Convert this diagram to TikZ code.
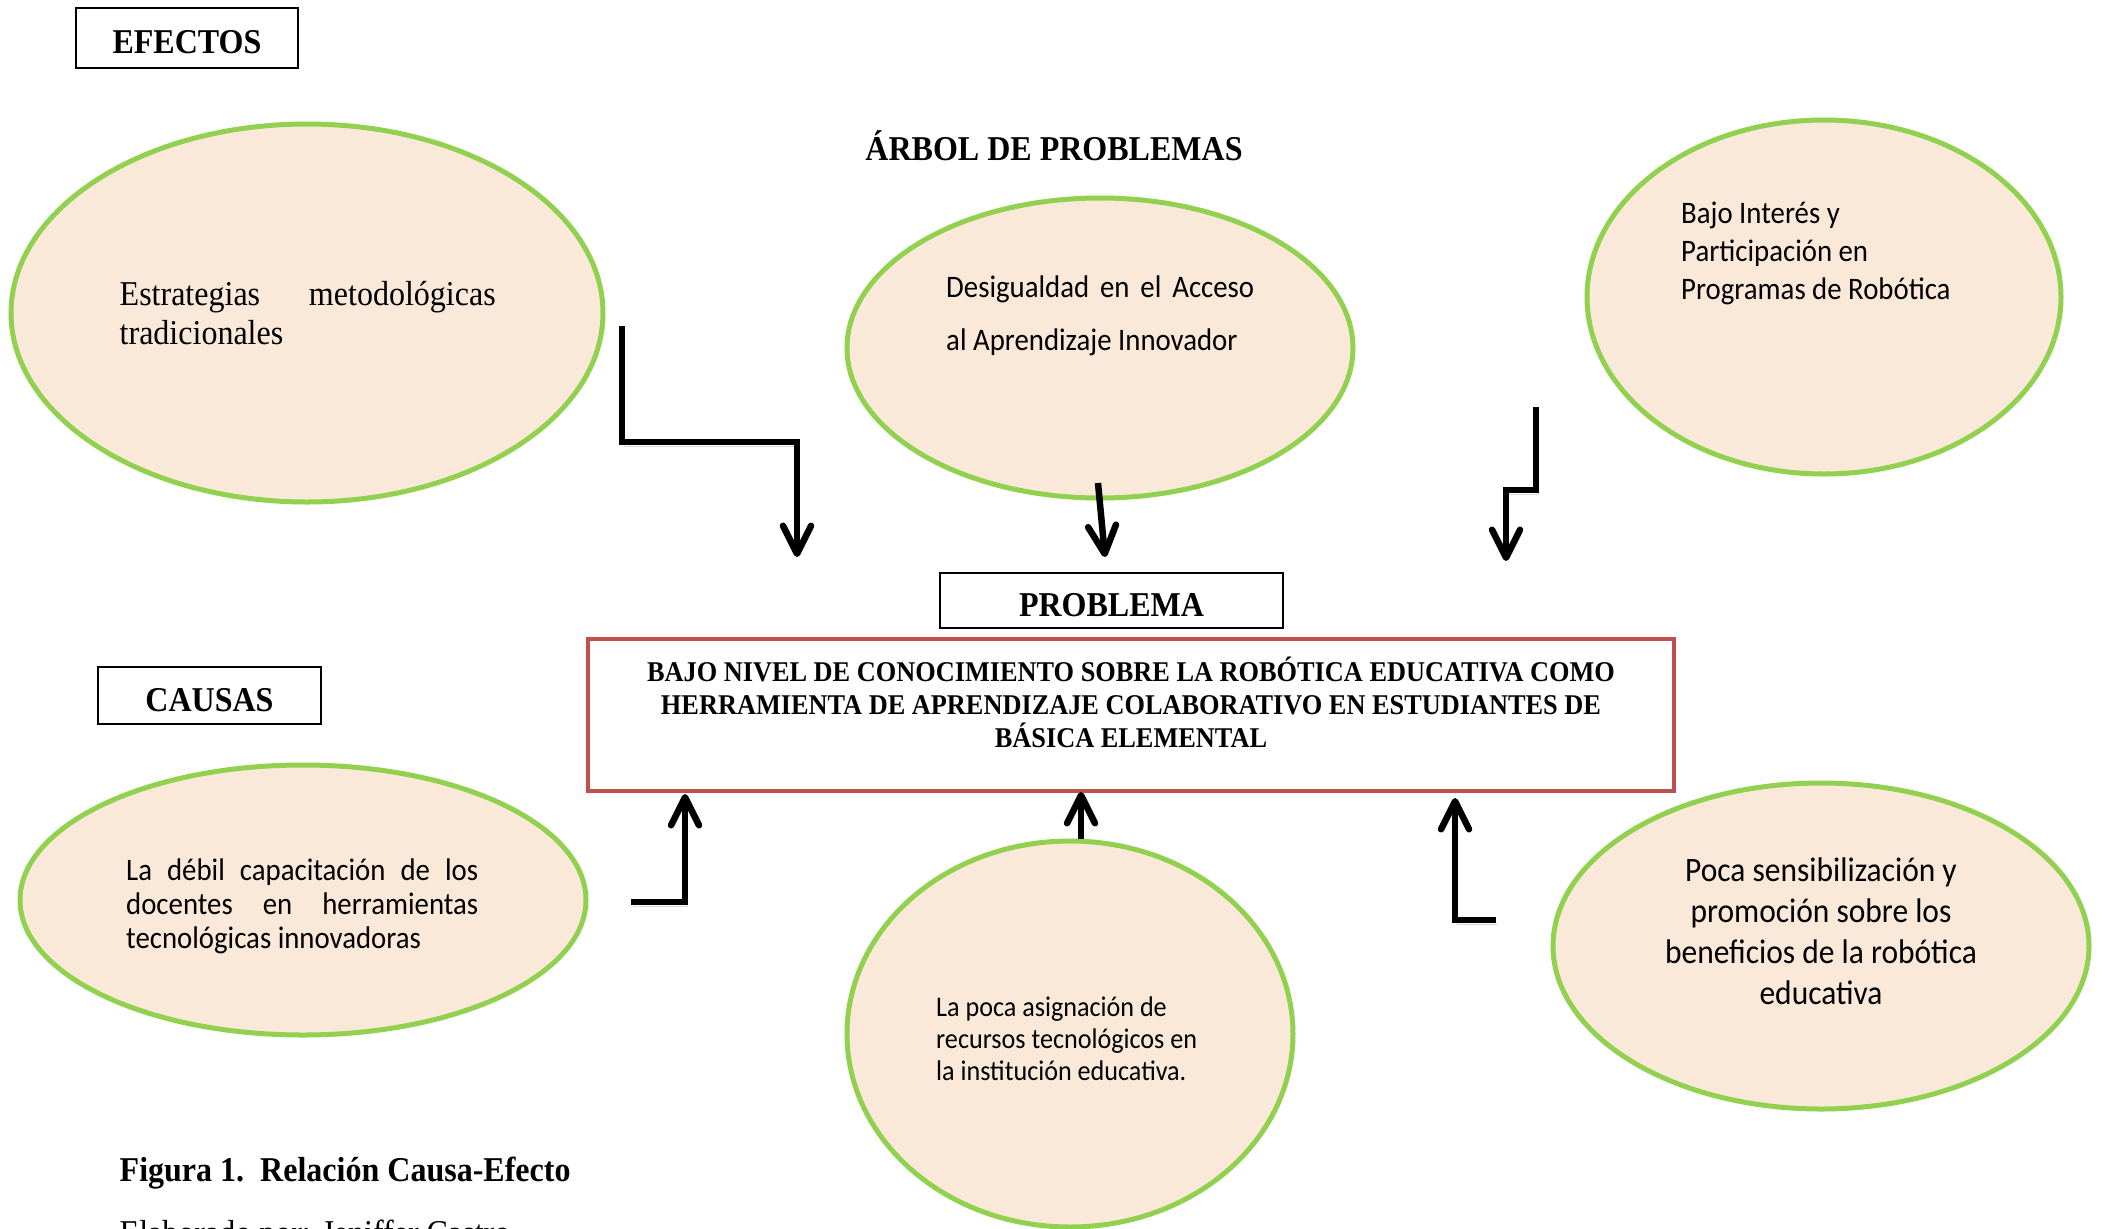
\documentclass[tikz,border=0pt]{standalone}
\usepackage{fontspec}
\setmainfont{Liberation Serif}[FakeStretch=0.92]
\newfontfamily\calfont{Carlito}[FakeStretch=0.92]
\usetikzlibrary{arrows.meta,shapes.geometric}
\definecolor{peach}{HTML}{FAE9D9}
\definecolor{lgreen}{HTML}{92D050}
\definecolor{redb}{HTML}{C0504D}
\begin{document}
\begin{tikzpicture}[x=1pt,y=-1pt,
 oval/.style={ellipse, draw=lgreen, fill=peach, line width=5pt, inner sep=0pt},
 tagbox/.style={draw, line width=2pt, inner sep=0pt, text height=31pt, text depth=0pt, font=\fontsize{34.8}{40}\selectfont\bfseries},
 conn/.style={line width=6.5pt, -{Straight Barb[length=28pt,width=28pt,round]},
   preaction={draw=black!30, opacity=0.5, transform canvas={xshift=2pt,yshift=-4pt}}},
 txt/.style={inner sep=0pt, anchor=base west},
 ctxt/.style={inner sep=0pt, anchor=base}
]
\clip (0,0) rectangle (2105,1229);
\fill[white] (0,0) rectangle (2105,1229);

% title boxes
\node[tagbox, minimum width=222pt, minimum height=60pt] (efectos) at (187,38) {EFECTOS};
\node[font=\fontsize{34.8}{40}\selectfont\bfseries, inner sep=0pt] (arbol) at (1054,146) {ÁRBOL DE PROBLEMAS};
\node[tagbox, minimum width=343pt, minimum height=55pt] (problema) at (1111.5,600.5) {PROBLEMA};
\node[tagbox, minimum width=223pt, minimum height=57pt] (causas) at (209.5,695.5) {CAUSAS};

% ellipses
\node[oval, minimum width=592pt, minimum height=378pt] (e1) at (307,313) {};
\node[oval, minimum width=506pt, minimum height=300pt] (e2) at (1100,348) {};
\node[oval, minimum width=474pt, minimum height=354pt] (e3) at (1824,297) {};
\node[oval, minimum width=566pt, minimum height=270pt] (c1) at (303,900) {};
\node[oval, minimum width=446pt, minimum height=386pt] (c2) at (1070,1034) {};
\node[oval, minimum width=536pt, minimum height=326pt] (c3) at (1821,946) {};

% ellipse texts
\node[txt] (t1) at (119.5,305) {\fontsize{34.8}{39}\selectfont\parbox[t]{376pt}{\makebox[376pt][s]{Estrategias metodológicas}\\tradicionales}};
\node[txt] (t2) at (946,297) {\calfont\fontsize{31.3}{53}\selectfont\parbox[t]{308pt}{\makebox[308pt][s]{Desigualdad en el Acceso}\\al Aprendizaje Innovador}};
\node[txt] (t3) at (1681,223) {\calfont\fontsize{31.3}{38}\selectfont\parbox[t]{320pt}{\raggedright Bajo Interés y\\Participación en\\Programas de Robótica}};
\node[txt] (t4) at (126,880) {\calfont\fontsize{31.3}{34}\selectfont\parbox[t]{352pt}{\makebox[352pt][s]{La débil capacitación de los}\\\makebox[352pt][s]{docentes en herramientas}\\tecnológicas innovadoras}};
\node[txt] (t5) at (936,1016) {\calfont\fontsize{28.4}{32}\selectfont\parbox[t]{320pt}{\raggedright La poca asignación de\\recursos tecnológicos en\\la institución educativa.}};
\node[ctxt] (t6) at (1821,881) {\calfont\fontsize{34.2}{41}\selectfont\parbox[t]{420pt}{\centering Poca sensibilización y\\promoción sobre los\\beneficios de la robótica\\educativa}};

% problem box
\node[draw=redb, line width=4.5pt, minimum width=1086pt, minimum height=152pt, inner sep=0pt] (red) at (1131,715) {};
\node[ctxt] (ptxt) at (1131,681) {\fontsize{28.6}{33}\selectfont\bfseries\parbox[t]{1075pt}{\centering BAJO NIVEL DE CONOCIMIENTO SOBRE LA ROBÓTICA EDUCATIVA COMO\\HERRAMIENTA DE APRENDIZAJE COLABORATIVO EN ESTUDIANTES DE\\BÁSICA ELEMENTAL}};

% caption
\node[txt] (cap) at (119.5,1181) {\fontsize{34.8}{40}\selectfont\bfseries Figura 1.\ \ Relación Causa-Efecto};
\node[txt] (elab) at (119.5,1244) {\fontsize{34.8}{40}\selectfont Elaborado por: Jeniffer Castro};

% connectors
\coordinate (a1s) at (622,326); \coordinate (a1m) at (797,442); \coordinate (a1e) at (797,557);
\draw[conn] (a1s) |- (a1m) -- (a1e);
\coordinate (a2s) at (1098,483); \coordinate (a2e) at (1105,557);
\draw[conn] (a2s) -- (a2e);
\coordinate (a3s) at (1536,407); \coordinate (a3m) at (1506,490); \coordinate (a3e) at (1506,561);
\draw[conn] (a3s) |- (a3m) -- (a3e);
\coordinate (b1s) at (631,902); \coordinate (b1e) at (685,794);
\draw[conn] (b1s) -| (b1e);
\coordinate (b2e) at (1081,792);
\draw[conn] (c2.north -| b2e) -- (b2e);
\coordinate (b3s) at (1496,920); \coordinate (b3e) at (1455,798);
\draw[conn] (b3s) -| (b3e);
\end{tikzpicture}
\end{document}
